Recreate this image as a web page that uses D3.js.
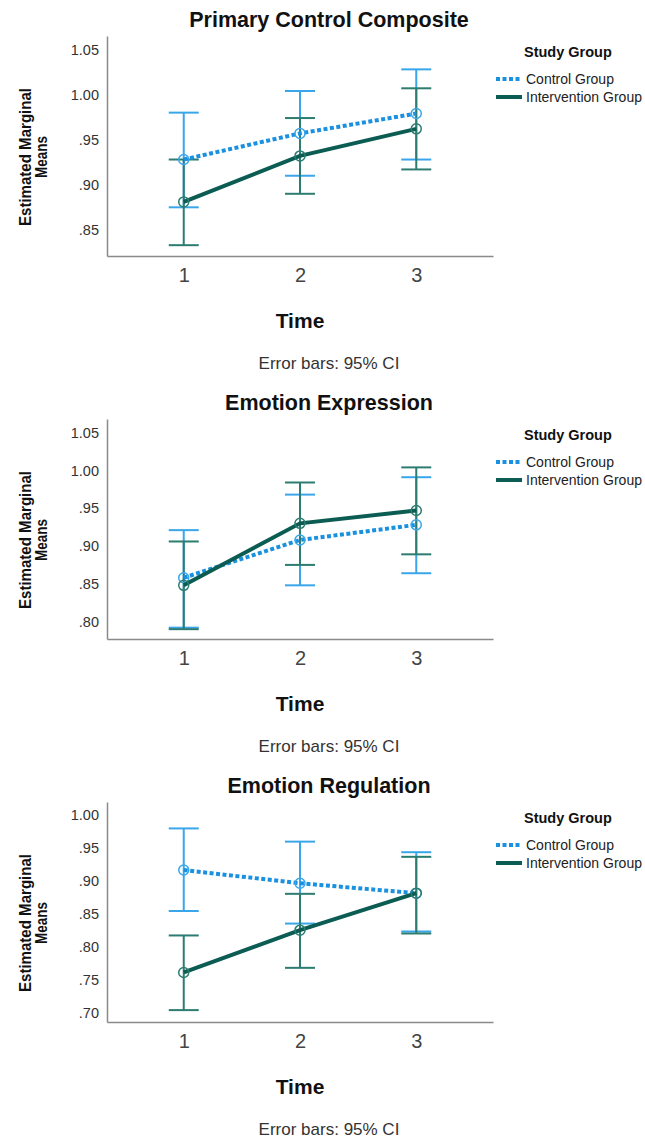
<!DOCTYPE html>
<html>
<head>
<meta charset="utf-8">
<script src="https://cdn.jsdelivr.net/npm/d3@7"></script>
<style>
  body { margin: 0; background: #fff; }
  text { font-family: "Liberation Sans", Arial, sans-serif; }
</style>
</head>
<body>
<svg width="645" height="1139"></svg>
<script>
// values
var times = [1, 2, 3];
var groups = ["Control Group", "Intervention Group"];
var titles = ["Primary Control Composite", "Emotion Expression", "Emotion Regulation"];

var pccControl = [0.928, 0.957, 0.979];
var pccControlLo = [0.875, 0.910, 0.928];
var pccControlHi = [0.980, 1.004, 1.028];
var pccInterv = [0.881, 0.932, 0.962];
var pccIntervLo = [0.833, 0.890, 0.917];
var pccIntervHi = [0.928, 0.974, 1.007];

var eeControl = [0.858, 0.908, 0.928];
var eeControlLo = [0.792, 0.848, 0.864];
var eeControlHi = [0.921, 0.968, 0.991];
var eeInterv = [0.848, 0.930, 0.947];
var eeIntervLo = [0.790, 0.875, 0.889];
var eeIntervHi = [0.906, 0.984, 1.004];

var erControl = [0.916, 0.896, 0.881];
var erControlLo = [0.854, 0.835, 0.823];
var erControlHi = [0.979, 0.959, 0.943];
var erInterv = [0.761, 0.825, 0.881];
var erIntervLo = [0.704, 0.768, 0.820];
var erIntervHi = [0.817, 0.880, 0.936];

var yTicks = [
  [0.85, 0.90, 0.95, 1.00, 1.05],
  [0.80, 0.85, 0.90, 0.95, 1.00, 1.05],
  [0.70, 0.75, 0.80, 0.85, 0.90, 0.95, 1.00]
];
var yDomains = [[0.821, 1.065], [0.777, 1.068], [0.686, 1.019]];

var panels = [
  {mean: [pccControl, pccInterv], lo: [pccControlLo, pccIntervLo], hi: [pccControlHi, pccIntervHi]},
  {mean: [eeControl, eeInterv], lo: [eeControlLo, eeIntervLo], hi: [eeControlHi, eeIntervHi]},
  {mean: [erControl, erInterv], lo: [erControlLo, erIntervLo], hi: [erControlHi, erIntervHi]}
];

var lineCol = ["#1a90e0", "#0b5c52"];
var barCol = ["#3aa6ea", "#2c7c71"];
var offsets = [0, 383, 766];

var svg = d3.select('svg');
var x = d3.scaleLinear().domain([0.34, 3.66]).range([107, 493]);
var fmt = function(d) { return d.toFixed(2).replace(/^0/, ''); };

panels.forEach(function(p, i) {
  var g = svg.append('g').attr('transform', 'translate(0,' + offsets[i] + ')');
  var y = d3.scaleLinear().domain(yDomains[i]).range([256, 36]);

  g.append('text').text(titles[i])
    .attr('x', 329).attr('y', 27)
    .attr('text-anchor', 'middle')
    .attr('font-size', '21.5px').attr('font-weight', 'bold').attr('fill', '#111');

  var ya = g.append('g').attr('transform', 'translate(107,0)')
    .call(d3.axisLeft(y).tickValues(yTicks[i]).tickFormat(fmt).tickSize(0).tickPadding(8));
  ya.selectAll('text').attr('font-size', '14.5px').attr('fill', '#333')
    .style('font-family', '"Liberation Sans", Arial, sans-serif');
  var xa = g.append('g').attr('transform', 'translate(0,256)')
    .call(d3.axisBottom(x).tickValues(times).tickFormat(d3.format('d')).tickSize(0).tickPadding(12));
  xa.selectAll('text').attr('font-size', '20px').attr('fill', '#444')
    .style('font-family', '"Liberation Sans", Arial, sans-serif');
  g.selectAll('.domain').attr('stroke', '#8a8a8a').attr('stroke-width', 1.5);

  // y axis title
  var yt = g.append('text')
    .attr('transform', 'translate(34,157) rotate(-90)')
    .attr('text-anchor', 'middle')
    .attr('font-size', '17px').attr('font-weight', 'bold').attr('fill', '#111');
  yt.append('tspan').attr('x', 0).attr('dy', -3).text('Estimated Marginal')
    .attr('textLength', 138).attr('lengthAdjust', 'spacingAndGlyphs');
  yt.append('tspan').attr('x', 0).attr('dy', 16).text('Means')
    .attr('textLength', 42).attr('lengthAdjust', 'spacingAndGlyphs');

  g.append('text').text('Time')
    .attr('x', 300).attr('y', 328)
    .attr('text-anchor', 'middle')
    .attr('font-size', '21px').attr('font-weight', 'bold').attr('fill', '#111');
  g.append('text').text('Error bars: 95% CI')
    .attr('x', 329).attr('y', 369)
    .attr('text-anchor', 'middle')
    .attr('font-size', '17px').attr('fill', '#333');

  // error bars
  [0, 1].forEach(function(s) {
    var eb = g.append('g').attr('stroke', barCol[s]).attr('stroke-width', 2).attr('fill', 'none');
    times.forEach(function(t, k) {
      var cx = x(t);
      eb.append('line').attr('x1', cx).attr('x2', cx).attr('y1', y(p.lo[s][k])).attr('y2', y(p.hi[s][k]));
      eb.append('line').attr('x1', cx - 15).attr('x2', cx + 15).attr('y1', y(p.lo[s][k])).attr('y2', y(p.lo[s][k]));
      eb.append('line').attr('x1', cx - 15).attr('x2', cx + 15).attr('y1', y(p.hi[s][k])).attr('y2', y(p.hi[s][k]));
    });
  });

  // lines + markers
  var line = d3.line().x(function(d, k) { return x(times[k]); }).y(function(d) { return y(d); });
  [0, 1].forEach(function(s) {
    g.append('path').datum(p.mean[s])
      .attr('d', line)
      .attr('fill', 'none')
      .attr('stroke', lineCol[s])
      .attr('stroke-width', 4)
      .attr('stroke-dasharray', s === 0 ? '4,2.5' : null);
    g.selectAll('.m' + s).data(p.mean[s]).enter().append('circle')
      .attr('cx', function(d, k) { return x(times[k]); })
      .attr('cy', function(d) { return y(d); })
      .attr('r', 5)
      .attr('fill', 'none')
      .attr('stroke', barCol[s])
      .attr('stroke-width', 1.5);
  });

  // legend
  g.append('text').text('Study Group')
    .attr('x', 524).attr('y', 57)
    .attr('font-size', '14.5px').attr('font-weight', 'bold').attr('fill', '#111');
  groups.forEach(function(name, s) {
    var ly = 79 + s * 18;
    g.append('line').attr('x1', 496).attr('x2', 522).attr('y1', ly).attr('y2', ly)
      .attr('stroke', lineCol[s]).attr('stroke-width', 4)
      .attr('stroke-dasharray', s === 0 ? '4,2.5' : null);
    g.append('text').text(name)
      .attr('x', 526).attr('y', ly + 5)
      .attr('font-size', '14px').attr('fill', '#222');
  });
});
</script>
</body>
</html>
